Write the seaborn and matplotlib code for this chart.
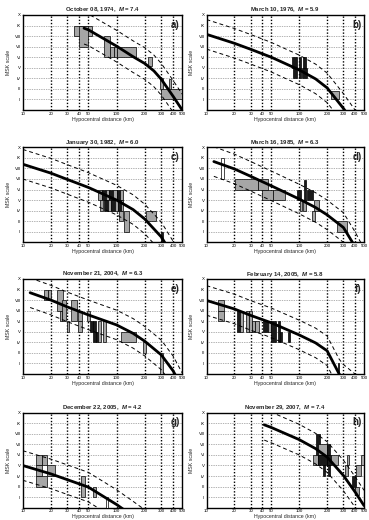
import numpy as np
import matplotlib
matplotlib.use("Agg")
import matplotlib.pyplot as plt
import seaborn as sns
from matplotlib.patches import Rectangle

sns.set_theme(style="white")
plt.rcParams['font.family'] = ['Liberation Sans', 'DejaVu Sans']
plt.rcParams['mathtext.fontset'] = 'custom'
plt.rcParams['mathtext.bfit'] = 'Liberation Sans:italic:bold'
plt.rcParams['mathtext.it'] = 'Liberation Sans:italic'

# ---------------- data ----------------
DATES = ["October 08, 1974", "March 10, 1976", "January 30, 1982", "March 16, 1985",
         "November 21, 2004", "February 14, 2005", "December 22, 2005", "November 29, 2007"]
MAGS = ["7.4", "5.9", "6.0", "6.3", "6.3", "5.8", "4.2", "7.4"]
PANEL_LABELS = ["a)", "b)", "c)", "d)", "e)", "f)", "g)", "h)"]

X_TICKS = [10, 20, 30, 40, 50, 100, 200, 300, 400, 500]
X_GRID = [20, 30, 40, 50, 100, 200, 300, 400]
Y_TICKS = [2, 3, 4, 5, 6, 7, 8, 9, 10]
Y_LABELS = ["II", "III", "IV", "V", "VI", "VII", "VIII", "IX", "X"]

# model curves (hypocentral distance km, MSK intensity)
A_DIST = [45, 50, 100, 150, 200, 250, 300, 400, 500]
A_MSK = [8.75, 8.6, 7.05, 6.05, 5.4, 4.7, 3.9, 2.3, 1.0]
B_DIST = [10, 20, 30, 50, 100, 150, 200, 300, 400, 500]
B_MSK = [8.17, 7.32, 6.75, 6.0, 4.8, 3.95, 3.1, 1.15, -0.4, -1.8]
C_DIST = [10, 20, 30, 50, 100, 150, 200, 300, 400, 500]
C_MSK = [8.4, 7.55, 6.95, 6.2, 5.0, 4.1, 3.2, 1.5, -0.3, -1.8]
D_DIST = [12, 20, 30, 50, 100, 150, 200, 300, 400, 500]
D_MSK = [8.65, 7.95, 7.25, 6.35, 5.1, 4.3, 3.6, 2.4, 0.6, -1.0]
E_DIST = [12, 20, 30, 50, 100, 150, 200, 300, 400, 500]
E_MSK = [8.7, 8.0, 7.35, 6.6, 5.65, 4.85, 4.1, 2.8, 1.3, -0.3]
F_DIST = [10, 20, 30, 50, 100, 150, 200, 270, 300, 400, 500]
F_MSK = [7.97, 7.16, 6.55, 5.85, 4.7, 3.95, 3.2, 1.0, 0.5, -0.4, -1.2]
G_DIST = [10, 20, 30, 50, 100, 150, 200, 300]
G_MSK = [5.0, 4.2, 3.65, 2.95, 1.3, 0.2, -0.6, -1.5]
H_DIST = [42, 50, 100, 150, 200, 300, 400, 500]
H_MSK = [8.85, 8.6, 7.45, 6.6, 5.8, 4.05, 2.5, 1.2]

# +/- one standard deviation band (intensity units)
SIGMA = [1.5, 1.4, 1.4, 1.4, 1.4, 1.4, 1.4, 1.45]

# observation boxes: (dist_lo, dist_hi, msk_lo, msk_hi, shade)
A_BOXES = [(35, 55, 8, 9, 'g'), (40, 50, 7, 9, 'g'), (74, 85, 6, 8, 'g'), (85, 95, 6, 7, 'g'),
           (95, 102, 6, 7, 'g'), (102, 160, 6, 7, 'g'), (215, 238, 5.2, 6, 'g'),
           (290, 310, 3, 4, 'g'), (360, 380, 3, 3.9, 'g'), (300, 500, 2, 3, 'g')]
B_BOXES = [(84, 95, 5, 6, 'k'), (99, 105, 5, 6, 'k'), (109, 117, 5, 6, 'k'),
           (85, 94, 4, 5, 'k'), (100, 104, 4, 5, 'k'), (107, 122, 4, 5, 'k'),
           (220, 270, 2, 2.8, 'g')]
C_BOXES = [(64, 70, 5, 6, 'g'), (70, 78, 5, 6, 'k'), (78, 84, 5, 6, 'g'), (84, 92, 5, 6, 'k'),
           (92, 100, 5, 6, 'g'), (100, 108, 5, 6, 'k'), (108, 117, 5, 6, 'g'),
           (66, 72, 4, 5, 'g'), (74, 82, 4, 5, 'k'), (82, 88, 4, 5, 'g'), (88, 96, 4, 5, 'k'),
           (96, 104, 4, 5, 'g'), (104, 112, 4, 5, 'k'), (112, 117, 4, 5, 'g'),
           (106, 117, 3, 4, 'g'), (120, 136, 2, 4, 'g'), (205, 265, 3, 4, 'g'),
           (300, 312, 1, 2, 'k')]
D_BOXES = [(14.5, 15.5, 7, 9, 'w'), (20.5, 36, 6, 7, 'g'), (36, 46, 6, 7, 'g'),
           (40, 52, 5, 6, 'g'), (52, 71, 5, 6, 'g'), (94, 105, 5, 6, 'k'),
           (112, 118, 5, 6.9, 'k'), (120, 140, 5, 6, 'k'), (102, 108, 4, 5, 'g'),
           (110, 118, 4, 5, 'g'), (146, 165, 4, 5, 'g'), (138, 148, 3, 4, 'g'),
           (258, 330, 2, 3, 'g')]
E_BOXES = [(17, 18.5, 8, 9, 'g'), (18.5, 20, 8, 9, 'g'), (23, 27, 7, 9, 'g'),
           (26.5, 29, 6, 8, 'g'), (25, 26.5, 6, 7, 'g'), (29.5, 31.5, 5, 6, 'g'),
           (33, 38, 6, 8, 'g'), (39, 43, 6, 7, 'g'), (39, 43, 5, 6, 'g'),
           (48.5, 52, 6, 7, 'g'), (52, 56, 5, 6, 'k'), (56, 60, 4, 6, 'k'),
           (60, 64, 4, 5, 'k'), (64, 69, 4, 6, 'g'), (72, 78, 4, 6, 'g'),
           (112, 162, 4, 5, 'g'), (190, 207, 3, 4, 'g'), (290, 310, 1, 3, 'g')]
F_BOXES = [(13.3, 15.4, 7, 8, 'g'), (13.3, 15.4, 6, 7, 'g'), (21.5, 23, 5, 7, 'k'),
           (23, 25, 5, 7, 'g'), (26.5, 28.5, 5, 7, 'g'), (28.5, 31, 5, 7, 'g'),
           (31, 33.5, 5, 6, 'g'), (33.5, 36.4, 5, 6, 'g'), (41, 46, 5, 6, 'k'),
           (46, 50, 5, 6, 'g'), (50, 56, 4, 6, 'k'), (58.5, 62, 4, 6, 'k'),
           (62, 66, 4, 5, 'k'), (75, 79, 4, 5, 'k'), (260, 270, 1, 2, 'k')]
G_BOXES = [(14, 16, 5, 6, 'g'), (16, 18, 5, 6, 'g'), (14, 16, 4, 5, 'g'),
           (14, 18, 3, 4, 'g'), (18.3, 22, 4, 5, 'g'), (41.5, 46, 2, 4, 'g'),
           (55.5, 60, 2, 3, 'g'), (76.5, 81.8, 1, 2, 'w')]
H_BOXES = [(150, 166, 5, 8, 'k'), (160, 200, 6, 7, 'g'), (200, 217, 5, 7, 'k'),
           (142, 158, 5, 6, 'g'), (158, 200, 5, 6, 'k'), (200, 220, 5, 6, 'k'),
           (220, 264, 5, 6, 'g'), (182, 190, 4, 5, 'k'), (205, 215, 4, 5, 'k'),
           (325, 345, 5, 6, 'g'), (310, 335, 4, 5, 'g'), (415, 460, 4, 5, 'g'),
           (465, 500, 5, 6, 'g'), (370, 405, 3, 4, 'k'), (400, 445, 2.2, 3, 'g')]

CURVES = [(A_DIST, A_MSK), (B_DIST, B_MSK), (C_DIST, C_MSK), (D_DIST, D_MSK),
          (E_DIST, E_MSK), (F_DIST, F_MSK), (G_DIST, G_MSK), (H_DIST, H_MSK)]
BOXES = [A_BOXES, B_BOXES, C_BOXES, D_BOXES, E_BOXES, F_BOXES, G_BOXES, H_BOXES]

SHADES = {'g': '#a6a6a6', 'k': '#1a1a1a', 'w': '#ffffff'}

# ---------------- layout ----------------
fig = plt.figure(figsize=(3.69, 5.20), dpi=100)
W, H = 369.0, 520.0
col_left = [22.7, 206.5]
col_w = [159.5, 157.5]
row_top = [15.0, 147.3, 279.0, 412.7]
ax_h = 95.0

for k in range(8):
    r, c = divmod(k, 2)
    ax = fig.add_axes([col_left[c] / W, 1 - (row_top[r] + ax_h) / H, col_w[c] / W, ax_h / H])
    ax.set_xscale('log')
    ax.set_xlim(10, 500)
    ax.set_ylim(1, 10)

    for g in X_GRID:
        ax.axvline(g, color='black', lw=1.0, ls=(0, (1, 1.3)), zorder=1)
    for yv in Y_TICKS[:-1]:
        ax.axhline(yv, color='#666666', lw=0.5, ls=(0, (1, 1.5)), zorder=1)

    for (d0, d1, i0, i1, s) in BOXES[k]:
        ax.add_patch(Rectangle((d0, i0), d1 - d0, i1 - i0, facecolor=SHADES[s],
                               edgecolor='black', lw=0.5, zorder=3))

    dist, msk = CURVES[k]
    dist = np.array(dist, float)
    msk = np.array(msk, float)
    sns.lineplot(x=dist, y=msk + SIGMA[k], ax=ax, color='black', lw=0.7,
                 linestyle=(0, (4, 3)), zorder=4)
    sns.lineplot(x=dist, y=msk - SIGMA[k], ax=ax, color='black', lw=0.7,
                 linestyle=(0, (4, 3)), zorder=4)
    sns.lineplot(x=dist, y=msk, ax=ax, color='black', lw=2.0, zorder=5)

    ax.set_xticks(X_TICKS)
    ax.set_xticklabels([str(t) for t in X_TICKS])
    ax.xaxis.set_minor_locator(matplotlib.ticker.NullLocator())
    ax.set_yticks(Y_TICKS)
    ax.set_yticklabels(Y_LABELS)
    ax.tick_params(axis='both', labelsize=3.2, length=1.5, width=0.5, pad=1.2,
                   direction='in', colors='black')
    for sp in ax.spines.values():
        sp.set_color('black')
        sp.set_linewidth(1.0)

    ax.set_xlabel("Hypocentral distance (km)", fontsize=3.8, labelpad=0.8)
    ax.set_ylabel("MSK scale", fontsize=3.8, labelpad=3)
    ax.set_title(DATES[k] + r",  $\mathbfit{M}$ = " + MAGS[k], fontsize=4.3,
                 fontweight='bold', pad=2.5)
    ax.text(0.985, 0.95, PANEL_LABELS[k], transform=ax.transAxes, ha='right', va='top',
            fontsize=7, fontweight='bold', zorder=6)

fig.savefig("out.png", dpi=100)
